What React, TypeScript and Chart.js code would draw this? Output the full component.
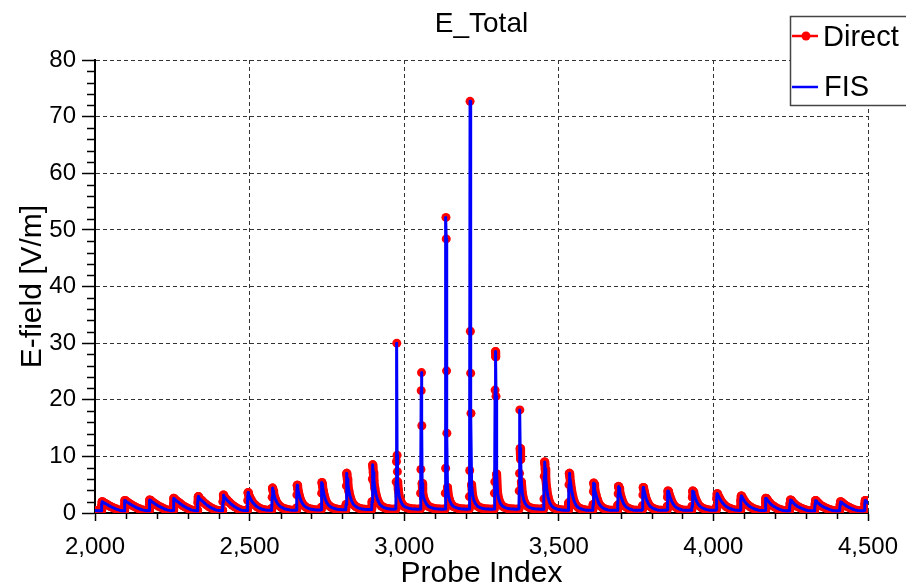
import React, { useEffect, useRef } from "react";
import { Chart, registerables } from "chart.js";

Chart.register(...registerables);

// ---------------- data ----------------
const chartTitle = "E_Total";
const xAxisTitle = "Probe Index";
const yAxisTitle = "E-field [V/m]";
const seriesNames = ["Direct", "FIS"];

const xMin = 2000;
const xMax = 4500;
const xStep = 500;
const yMin = 0;
const yMax = 80;
const yStep = 10;

// samples before the first pulse
const leadInIndex = [2000, 2004, 2008, 2012, 2016];
const leadInValues = [0.45, 0.42, 0.4, 0.4, 0.4];

// probe index at which each pulse rises
const pulseStart = [
  2022, 2096, 2176, 2254, 2333, 2414, 2494, 2573, 2653, 2733, 2813, 2897,
  2976, 3055, 3135, 3213, 3294, 3374, 3453, 3533, 3612, 3692, 3772, 3852,
  3932, 4011, 4089, 4169, 4248, 4329, 4410, 4490,
];

// probe-index offsets (relative to pulse start) of the samples read per pulse
const sampleOffsets = [-3, -2, -1, 0, 1, 2, 3, 5, 8, 12, 17, 23, 30, 38, 47, 57, 68];

// E-field values [V/m] of the Direct series, one row per pulse
const directPulses: number[][] = [
  [0.4, 0.4, 0.45, 1.3, 2.0, 1.95, 1.9, 1.85, 1.75, 1.65, 1.5, 1.3, 1.1, 0.9, 0.7, 0.5, 0.4],
  [0.4, 0.4, 0.45, 1.4, 2.2, 2.15, 2.1, 2.0, 1.9, 1.8, 1.6, 1.4, 1.2, 0.95, 0.75, 0.55, 0.42],
  [0.4, 0.4, 0.45, 1.5, 2.3, 2.25, 2.2, 2.1, 2.0, 1.85, 1.65, 1.45, 1.2, 1.0, 0.75, 0.55, 0.42],
  [0.4, 0.4, 0.5, 1.6, 2.6, 2.5, 2.45, 2.35, 2.2, 2.05, 1.85, 1.6, 1.3, 1.05, 0.8, 0.55, 0.42],
  [0.4, 0.4, 0.5, 1.8, 2.9, 2.8, 2.7, 2.55, 2.4, 2.2, 1.95, 1.65, 1.35, 1.05, 0.8, 0.55, 0.42],
  [0.4, 0.4, 0.5, 2.0, 3.2, 3.1, 2.95, 2.8, 2.6, 2.35, 2.05, 1.75, 1.4, 1.1, 0.8, 0.55, 0.42],
  [0.42, 0.45, 0.6, 2.2, 3.6, 3.45, 3.25, 2.95, 2.6, 2.2, 1.8, 1.45, 1.1, 0.85, 0.65, 0.55, 0.5],
  [0.5, 0.55, 0.8, 2.8, 4.4, 4.2, 3.9, 3.4, 2.8, 2.2, 1.7, 1.3, 1.0, 0.8, 0.65, 0.55, 0.5],
  [0.5, 0.55, 0.9, 3.2, 4.9, 4.7, 4.3, 3.7, 3.0, 2.3, 1.75, 1.3, 1.0, 0.8, 0.65, 0.58, 0.55],
  [0.55, 0.6, 1.0, 3.5, 5.4, 5.1, 4.7, 4.0, 3.2, 2.4, 1.8, 1.35, 1.05, 0.85, 0.7, 0.6, 0.58],
  [0.58, 0.7, 1.5, 4.8, 7.0, 6.6, 6.0, 5.0, 3.9, 2.9, 2.1, 1.5, 1.15, 0.9, 0.75, 0.65, 0.6],
  [0.6, 0.8, 2.0, 6.0, 8.5, 8.0, 7.2, 5.8, 4.4, 3.2, 2.3, 1.6, 1.2, 0.95, 0.8, 0.7, 0.65],
  [0.7, 5.5, 9.1, 30.0, 10.2, 7.3, 5.5, 4.1, 2.9, 2.2, 1.6, 1.2, 1.0, 0.85, 0.75, 0.7, 0.65],
  [0.7, 3.5, 7.7, 21.6, 24.8, 15.4, 5.2, 3.5, 2.7, 2.1, 1.6, 1.2, 1.0, 0.85, 0.75, 0.7, 0.65],
  [0.7, 3.5, 7.9, 52.2, 48.4, 25.1, 14.1, 4.5, 3.0, 2.2, 1.6, 1.2, 1.0, 0.85, 0.75, 0.7, 0.65],
  [0.7, 2.9, 7.5, 72.7, 32.1, 24.7, 17.6, 5.0, 3.2, 2.3, 1.7, 1.25, 1.0, 0.85, 0.75, 0.7, 0.65],
  [0.7, 3.5, 5.5, 21.7, 28.5, 27.6, 20.6, 6.9, 3.5, 2.4, 1.7, 1.25, 1.0, 0.85, 0.75, 0.7, 0.65],
  [0.7, 3.9, 7.0, 18.2, 11.4, 10.5, 9.5, 5.5, 3.5, 2.4, 1.7, 1.25, 1.0, 0.85, 0.75, 0.7, 0.65],
  [0.65, 0.9, 2.5, 6.5, 9.0, 8.6, 7.8, 6.0, 4.3, 2.9, 1.9, 1.3, 0.95, 0.75, 0.6, 0.55, 0.5],
  [0.5, 0.7, 1.8, 5.0, 7.0, 6.8, 6.4, 5.4, 4.2, 3.0, 2.0, 1.35, 0.95, 0.75, 0.6, 0.5, 0.5],
  [0.5, 0.65, 1.5, 3.8, 5.3, 5.1, 4.8, 4.1, 3.3, 2.5, 1.75, 1.25, 0.9, 0.7, 0.55, 0.5, 0.5],
  [0.5, 0.65, 1.4, 3.4, 4.7, 4.6, 4.4, 3.8, 3.1, 2.4, 1.7, 1.2, 0.9, 0.7, 0.55, 0.5, 0.5],
  [0.5, 0.65, 1.3, 3.2, 4.5, 4.4, 4.2, 3.7, 3.0, 2.3, 1.7, 1.2, 0.9, 0.7, 0.55, 0.5, 0.5],
  [0.5, 0.6, 1.2, 2.8, 3.9, 3.85, 3.7, 3.3, 2.8, 2.2, 1.65, 1.2, 0.9, 0.7, 0.55, 0.5, 0.5],
  [0.5, 0.6, 1.2, 2.8, 3.9, 3.85, 3.7, 3.35, 2.85, 2.25, 1.7, 1.25, 0.95, 0.75, 0.6, 0.5, 0.5],
  [0.5, 0.6, 1.1, 2.5, 3.4, 3.35, 3.25, 3.0, 2.7, 2.3, 1.9, 1.5, 1.15, 0.9, 0.7, 0.55, 0.5],
  [0.45, 0.55, 1.0, 2.2, 3.0, 2.95, 2.9, 2.7, 2.4, 2.05, 1.7, 1.4, 1.1, 0.85, 0.65, 0.5, 0.45],
  [0.45, 0.5, 0.9, 1.9, 2.6, 2.55, 2.5, 2.35, 2.15, 1.85, 1.55, 1.3, 1.05, 0.8, 0.6, 0.45, 0.4],
  [0.4, 0.5, 0.8, 1.7, 2.3, 2.25, 2.2, 2.1, 1.95, 1.7, 1.45, 1.2, 1.0, 0.8, 0.6, 0.45, 0.4],
  [0.4, 0.45, 0.75, 1.6, 2.2, 2.15, 2.1, 2.0, 1.85, 1.65, 1.4, 1.2, 1.0, 0.8, 0.6, 0.45, 0.4],
  [0.4, 0.45, 0.7, 1.5, 2.0, 1.95, 1.9, 1.85, 1.7, 1.55, 1.35, 1.15, 0.95, 0.75, 0.55, 0.45, 0.4],
  [0.4, 0.5, 0.8, 1.6, 2.2, 2.2, 2.15, 2.05, 1.9, 1.7, 1.45, 1.2, 1.0, 0.8, 0.6, 0.45, 0.4],
];

// FIS overlays Direct within the line width everywhere
const fisPulses: number[][] = directPulses;

// ---------------- styling ----------------
const RED = "#ff0000";
const BLUE = "#0000ff";
const FONT = '"Liberation Sans", Arial, Helvetica, sans-serif';

function buildSeries(pulses: number[][]) {
  const pts: { x: number; y: number }[] = leadInIndex.map((x, i) => ({ x, y: leadInValues[i] }));
  pulseStart.forEach((s, k) => {
    sampleOffsets.forEach((o, j) => {
      pts.push({ x: s + o, y: pulses[k][j] });
    });
  });
  return pts;
}

// The Direct markers sit on every probe index, so where the curve changes slowly
// they merge into a continuous band; where it jumps steeply only single dots show.
function directSegmentWidth(ctx: any) {
  const p0 = ctx.p0;
  const p1 = ctx.p1;
  const dIdx = Math.max(1, (p1.parsed?.x ?? 0) - (p0.parsed?.x ?? 0));
  const dyPerIdx = Math.abs(p1.y - p0.y) / dIdx;
  return dyPerIdx < 7 ? 9 : 1.5;
}

const decorPlugin = {
  id: "decor",
  afterDraw(chart: any) {
    const { ctx, chartArea, scales } = chart;
    const xs = scales.x;
    const ys = scales.y;
    ctx.save();

    // minor ticks
    ctx.strokeStyle = "#000";
    ctx.lineWidth = 1.5;
    ctx.beginPath();
    for (let v = yMin; v <= yMax; v += 2) {
      if (v % yStep === 0) continue;
      const y = Math.round(ys.getPixelForValue(v)) + 0.5;
      ctx.moveTo(chartArea.left - 8, y);
      ctx.lineTo(chartArea.left, y);
    }
    for (let v = xMin; v <= xMax; v += 100) {
      if (v % xStep === 0) continue;
      const x = Math.round(xs.getPixelForValue(v)) + 0.5;
      ctx.moveTo(x, chartArea.bottom);
      ctx.lineTo(x, chartArea.bottom + 6);
    }
    ctx.stroke();

    // title
    ctx.fillStyle = "#000";
    ctx.textAlign = "center";
    ctx.textBaseline = "middle";
    const cx = (chartArea.left + chartArea.right) / 2;
    ctx.font = `28px ${FONT}`;
    ctx.fillText(chartTitle, cx, 24);

    // axis titles
    ctx.font = `30px ${FONT}`;
    ctx.fillText(xAxisTitle, cx, 574);
    ctx.save();
    ctx.translate(33, (chartArea.top + chartArea.bottom) / 2);
    ctx.rotate(-Math.PI / 2);
    ctx.fillText(yAxisTitle, 0, 0);
    ctx.restore();

    // legend box
    const lx = 790;
    const ly = 16;
    ctx.fillStyle = "#fff";
    ctx.fillRect(lx, ly, 130, 90);
    ctx.strokeStyle = "#444";
    ctx.lineWidth = 1.5;
    ctx.strokeRect(lx + 0.5, ly + 0.5, 130, 89);

    ctx.lineWidth = 2.5;
    ctx.strokeStyle = RED;
    ctx.beginPath();
    ctx.moveTo(lx + 2, 36);
    ctx.lineTo(lx + 28, 36);
    ctx.stroke();
    ctx.fillStyle = RED;
    ctx.beginPath();
    ctx.arc(lx + 16, 36, 4.5, 0, Math.PI * 2);
    ctx.fill();

    ctx.strokeStyle = BLUE;
    ctx.beginPath();
    ctx.moveTo(lx + 2, 87);
    ctx.lineTo(lx + 28, 87);
    ctx.stroke();

    ctx.fillStyle = "#000";
    ctx.textAlign = "left";
    ctx.font = `29px ${FONT}`;
    ctx.fillText(seriesNames[0], lx + 33, 38);
    ctx.fillText(seriesNames[1], lx + 34, 88);

    ctx.restore();
  },
};

export default function App() {
  const canvasRef = useRef<HTMLCanvasElement | null>(null);

  useEffect(() => {
    const canvas = canvasRef.current;
    if (!canvas) return;
    const chart = new Chart(canvas, {
      type: "line",
      data: {
        datasets: [
          {
            label: seriesNames[0],
            data: buildSeries(directPulses),
            borderColor: RED,
            backgroundColor: RED,
            borderWidth: 1.5,
            borderJoinStyle: "round",
            borderCapStyle: "round",
            segment: { borderWidth: directSegmentWidth },
            pointRadius: 4.5,
            pointBorderWidth: 0,
            pointBackgroundColor: RED,
            tension: 0,
            order: 2,
          },
          {
            label: seriesNames[1],
            data: buildSeries(fisPulses),
            borderColor: BLUE,
            backgroundColor: BLUE,
            borderWidth: 3,
            borderJoinStyle: "round",
            borderCapStyle: "round",
            pointRadius: 0,
            tension: 0,
            order: 1,
          },
        ],
      },
      options: {
        animation: false,
        responsive: false,
        devicePixelRatio: 1,
        layout: { padding: { left: 0, right: 38, top: 60, bottom: 0 } },
        plugins: {
          legend: { display: false },
          title: { display: false },
          tooltip: { enabled: false },
        },
        scales: {
          x: {
            type: "linear",
            min: xMin,
            max: xMax,
            afterFit: (scale: any) => {
              scale.height = 74;
              scale.paddingLeft = 0;
              scale.paddingRight = 0;
            },
            afterBuildTicks: (scale: any) => {
              const t = [];
              for (let v = xMin; v <= xMax; v += xStep) t.push({ value: v });
              scale.ticks = t;
            },
            ticks: {
              color: "#000",
              padding: 12,
              maxRotation: 0,
              font: { family: FONT, size: 24 },
              callback: (v: any) => Number(v).toLocaleString("en-US"),
            },
            grid: {
              color: "#333",
              lineWidth: 1,
              tickLength: 8,
              tickColor: "#000",
              tickWidth: 1.5,
            },
            border: { display: true, color: "#000", width: 2, dash: [4, 3] },
          },
          y: {
            type: "linear",
            min: yMin,
            max: yMax,
            afterFit: (scale: any) => {
              scale.width = 95;
              scale.paddingTop = 0;
              scale.paddingBottom = 0;
            },
            ticks: {
              stepSize: yStep,
              color: "#000",
              padding: 6,
              font: { family: FONT, size: 24 },
            },
            grid: {
              color: "#333",
              lineWidth: 1,
              tickLength: 13,
              tickColor: "#000",
              tickWidth: 1.5,
            },
            border: { display: true, color: "#000", width: 2, dash: [4, 3] },
          },
        },
      },
      plugins: [decorPlugin],
    });
    return () => chart.destroy();
  }, []);

  return (
    <div style={{ position: "fixed", left: 0, top: 0, width: 906, height: 587, background: "#fff" }}>
      <canvas ref={canvasRef} width={906} height={587} style={{ width: 906, height: 587, display: "block" }} />
    </div>
  );
}
